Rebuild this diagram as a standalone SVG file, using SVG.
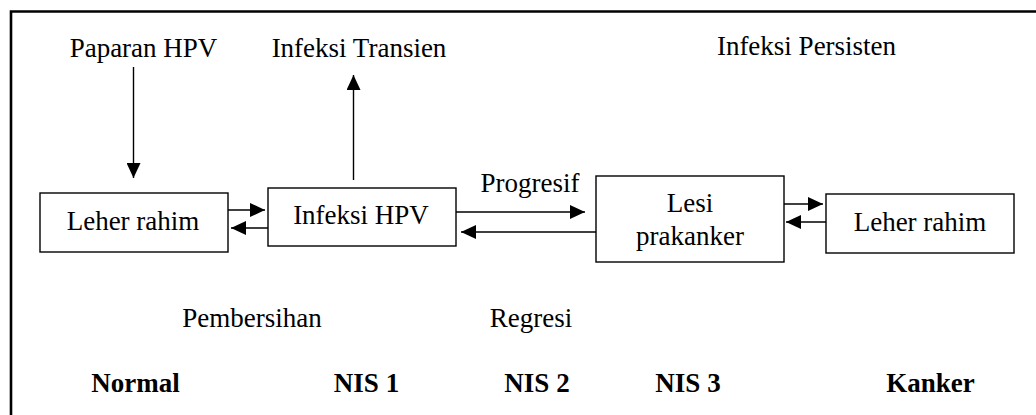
<svg xmlns="http://www.w3.org/2000/svg" width="1036" height="415" viewBox="0 0 1036 415">
<style>
text{font-size:27px;fill:#000;text-anchor:middle}
.b{font-weight:bold}
.box{fill:#fff;stroke:#000;stroke-width:1.4}
.c{stroke:#000;stroke-width:1.4;fill:none;marker-end:url(#ah)}
</style>
<defs>
<marker id="ah" markerUnits="userSpaceOnUse" markerWidth="16" markerHeight="14" refX="15" refY="7" orient="auto">
<path d="M0,0 L15,7 L0,14 Z" fill="#000"/>
</marker>
</defs>
<rect width="1036" height="415" fill="#fff"/>
<path d="M11,415 V11.5 H1036" fill="none" stroke="#000" stroke-width="2.6"/>
<g font-family="'Liberation Serif', 'Times New Roman', Times, serif">
<text x="143.5" y="57">Paparan HPV</text>
<text x="359" y="57">Infeksi Transien</text>
<text x="806.5" y="55">Infeksi Persisten</text>
<text x="530" y="192">Progresif</text>
<text x="252" y="327">Pembersihan</text>
<text x="531" y="327">Regresi</text>
<g id="stages">
<text class="b" x="135.5" y="392">Normal</text>
<text class="b" x="366.5" y="392">NIS 1</text>
<text class="b" x="537" y="392">NIS 2</text>
<text class="b" x="688" y="392">NIS 3</text>
<text class="b" x="930.5" y="392">Kanker</text>
</g>
<g id="node-leher1">
<rect class="box" x="40" y="193" width="188" height="59"/>
<text x="133" y="230">Leher rahim</text>
</g>
<g id="node-infeksi">
<rect class="box" x="268" y="188" width="188" height="58"/>
<text x="361" y="224">Infeksi HPV</text>
</g>
<g id="node-lesi">
<rect class="box" x="596" y="176" width="188" height="86"/>
<text x="690" y="212">Lesi</text>
<text x="690" y="245">prakanker</text>
</g>
<g id="node-leher2">
<rect class="box" x="826" y="194" width="188" height="59"/>
<text x="920" y="231">Leher rahim</text>
</g>
</g>
<g id="connectors">
<line class="c" x1="133.5" y1="67" x2="133.5" y2="178"/>
<line class="c" x1="353.5" y1="180" x2="353.5" y2="75"/>
<line class="c" x1="228" y1="210" x2="265" y2="210"/>
<line class="c" x1="268" y1="228" x2="231" y2="228"/>
<line class="c" x1="456" y1="212" x2="585" y2="212"/>
<line class="c" x1="596" y1="232" x2="461" y2="232"/>
<line class="c" x1="784" y1="204" x2="823" y2="204"/>
<line class="c" x1="826" y1="222" x2="786" y2="222"/>
</g>
</svg>
